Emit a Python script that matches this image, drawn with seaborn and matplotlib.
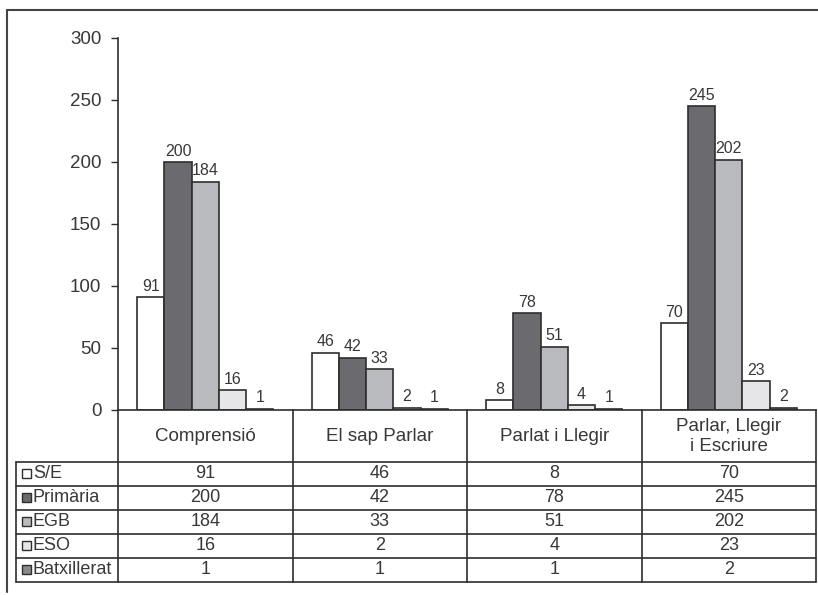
import matplotlib
matplotlib.use("Agg")
import matplotlib.pyplot as plt
import matplotlib.transforms as mtransforms
from matplotlib.patches import Rectangle
from matplotlib.lines import Line2D
import seaborn as sns
import pandas as pd

categories = ["Comprensió", "El sap Parlar", "Parlat i Llegir", "Parlar, Llegir\ni Escriure"]
levels = ["S/E", "Primària", "EGB", "ESO", "Batxillerat"]
se = [91, 46, 8, 70]
primaria = [200, 42, 78, 245]
egb = [184, 33, 51, 202]
eso = [16, 2, 4, 23]
batx = [1, 1, 1, 2]
yticks = [0, 50, 100, 150, 200, 250, 300]
colors = ["#ffffff", "#6b6b6f", "#b9babe", "#e6e6e8", "#8a8a8d"]

series = [se, primaria, egb, eso, batx]
rows = []
for lvl, vals in zip(levels, series):
    for c, v in zip(categories, vals):
        rows.append({"cat": c, "level": lvl, "value": v})
df = pd.DataFrame(rows)

sns.set_theme(style="white")
plt.rcParams["font.family"] = ["Liberation Sans", "DejaVu Sans"]
TXT = "#383838"
LINE = "#2e2e2e"

W, H = 818, 595
fig = plt.figure(figsize=(W / 100, H / 100), dpi=100)
fig.patch.set_facecolor("white")

def fx(px):
    return px / W

def fy(py):
    return 1 - py / H

ax_l, ax_r, ax_b, ax_t = 118, 816, 410, 38
ax = fig.add_axes([fx(ax_l), fy(ax_b), fx(ax_r - ax_l), fy(ax_t) - fy(ax_b)])

sns.barplot(data=df, x="cat", y="value", hue="level", order=categories,
            hue_order=levels, palette=colors, width=0.78, gap=0,
            edgecolor=LINE, linewidth=1.2, legend=False, ax=ax, saturation=1)

for cont in ax.containers:
    ax.bar_label(cont, padding=2.5, fontsize=11.5, color=TXT)

ax.set_xlim(-0.5, len(categories) - 0.5)
ax.set_ylim(0, 300)
ax.set_yticks(yticks)
ax.set_yticklabels([str(t) for t in yticks], fontsize=13.5, color=TXT)
ax.set_xticks([])
ax.set_xlabel("")
ax.set_ylabel("")
for s in ["top", "right"]:
    ax.spines[s].set_visible(False)
for s in ["left", "bottom"]:
    ax.spines[s].set_color(LINE)
    ax.spines[s].set_linewidth(1.2)
ax.tick_params(axis="y", which="both", left=True, length=5, width=1.0,
               color=LINE, pad=7)
ax.patch.set_alpha(0)

# --- data table below ---
bt = mtransforms.blended_transform_factory(ax.transData, fig.transFigure)
header_top, header_bot = 410, 461.5
row_h = 24
row_left = 16
n = len(levels)
table_bot = header_bot + n * row_h

def hline(y, x0, x1):
    fig.add_artist(Line2D([fx(x0), fx(x1)], [fy(y), fy(y)], color=LINE,
                          lw=1.2, transform=fig.transFigure))

def vline(x, y0, y1):
    fig.add_artist(Line2D([fx(x), fx(x)], [fy(y0), fy(y1)], color=LINE,
                          lw=1.2, transform=fig.transFigure))

for i in range(n + 1):
    hline(header_bot + i * row_h, row_left, ax_r)
vline(row_left, header_bot, table_bot)
col_edges = [ax_l + (ax_r - ax_l) * k / len(categories) for k in range(len(categories) + 1)]
for xe in col_edges:
    vline(xe, header_top, table_bot)

for i, c in enumerate(categories):
    fig.text(i, fy((header_top + header_bot) / 2 + 0.5), c, transform=bt,
             ha="center", va="center", fontsize=13.5, color=TXT,
             linespacing=1.25)

for r, (lvl, vals, col) in enumerate(zip(levels, series, colors)):
    yc = header_bot + r * row_h + row_h / 2
    sw = 9
    fig.add_artist(Rectangle((fx(22), fy(yc + sw / 2)), fx(sw), sw / H,
                             facecolor=col, edgecolor=LINE, lw=1.0,
                             transform=fig.transFigure))
    fig.text(fx(33), fy(yc), lvl, ha="left", va="center", fontsize=13,
             color=TXT)
    for i, v in enumerate(vals):
        fig.text(i, fy(yc), str(v), transform=bt, ha="center", va="center",
                 fontsize=13, color=TXT)

# outer frame (top and left)
fig.add_artist(Line2D([fx(7), fx(7)], [fy(10), fy(592)], color="#444444",
                      lw=1.5, transform=fig.transFigure))
fig.add_artist(Line2D([fx(7), fx(818)], [fy(10), fy(10)], color="#444444",
                      lw=1.5, transform=fig.transFigure))

fig.savefig("out.png", dpi=100, facecolor="white")
